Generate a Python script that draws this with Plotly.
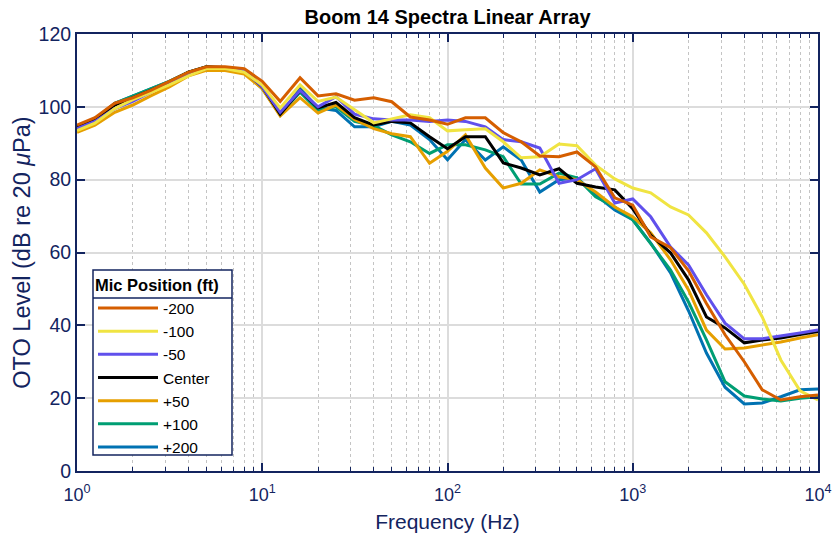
import plotly.graph_objects as go

freqs = [1, 1.25, 1.6, 2, 2.5, 3.15, 4, 5, 6.3, 8, 10, 12.5, 16, 20, 25, 31.5, 40, 50, 63, 80,
         100, 125, 160, 200, 250, 315, 400, 500, 630, 800, 1000, 1250, 1600, 2000, 2500, 3150,
         4000, 5000, 6300, 8000, 10000]

m200 = [95, 97, 101, 102.5, 104.5, 107, 109.5, 111, 111, 110.5, 107, 101.5, 108, 103, 103.6, 101.8,
        102.5, 101.4, 97.2, 96.4, 95.2, 97, 97, 92.9, 90.4, 86.5, 86.3, 87.6, 83.5, 75, 73, 64.3,
        61.3, 55, 46, 37.4, 30, 22.3, 19.5, 20.4, 20.9]
m100 = [93.5, 95.5, 99.5, 102, 104, 106, 108.5, 110.5, 110.5, 109.5, 106, 99.7, 106, 101.5, 102.7,
        99.3, 95.6, 96.7, 97.8, 97, 93.4, 93.7, 94, 90.4, 86, 86.3, 89.8, 89.3, 84, 80.2, 77.7, 76.4,
        72.5, 70.3, 65.4, 58.8, 51.3, 42.3, 30.5, 22, 19.5]
m50 = [94, 96, 99.5, 101.5, 104, 106.5, 109, 110.5, 110.5, 110, 105.5, 98.5, 104.5, 100, 102.8, 98,
       96.7, 96.4, 96.4, 96, 96.4, 96, 94.5, 91, 90.4, 88.7, 79, 80, 83, 73.6, 74.7, 69.8, 61.5, 56.6,
       48.4, 40.6, 36.3, 36.3, 37, 37.9, 38.7]
center = [94.5, 96.5, 100.5, 102.5, 104.5, 106.8, 109.5, 111, 110.8, 110, 105.5, 98, 104.5, 99.7,
          101.2, 97, 95, 96, 95.6, 91.8, 88.5, 91.8, 91.8, 84.6, 83.2, 81.3, 83, 79, 78, 77.2, 72,
          64.8, 59.9, 52.5, 42.3, 39.3, 35.2, 36, 36.5, 37.5, 38.3]
p50 = [93, 95, 98.5, 100.5, 103, 105.5, 108.5, 110, 110, 109, 105, 97.5, 102.5, 98.3, 100.5, 96.5,
       94, 92.6, 91.8, 84.5, 87.8, 92.3, 83.2, 77.7, 79, 82.7, 80.8, 80, 76.6, 72.5, 69.8, 65.4, 58,
       49.7, 38.7, 33.5, 33.8, 34.5, 35.4, 36.5, 37.4]
p100 = [94.5, 96.5, 101, 103, 105, 107, 109.5, 111, 110.5, 110, 105.5, 98, 104, 99, 100, 96, 94.8,
        92.3, 90.4, 87.2, 89.6, 89.6, 88.2, 86.3, 78.8, 78.8, 81.8, 80.5, 75.3, 72.5, 69, 62.6, 55.2,
        46.4, 36, 24.5, 20.6, 19.8, 19.2, 20, 20.4]
p200 = [94.5, 96.5, 101, 103, 105, 107, 109.5, 110.5, 110.5, 109.5, 105, 97.8, 105, 99.7, 99, 94.5,
        94.5, 96, 95, 91, 85.5, 91, 85.4, 89, 85.4, 76.6, 80, 80.5, 75.8, 71.7, 69, 62.6, 54.4, 44,
        32.4, 23, 18.4, 18.7, 20.4, 22.3, 22.5]

names = ["-200", "-100", "-50", "Center", "+50", "+100", "+200"]
series = [m200, m100, m50, center, p50, p100, p200]
colors = ["#D55E00", "#F0E442", "#6050EC", "#000000", "#E69F00", "#009E73", "#0072B2"]

xtickvals = [1, 10, 100, 1000, 10000]
xticktext = ["10<sup>0</sup>", "10<sup>1</sup>", "10<sup>2</sup>", "10<sup>3</sup>", "10<sup>4</sup>"]
xminorvals = [k * 10 ** d for d in range(4) for k in range(2, 10)]
ytickvals = [0, 20, 40, 60, 80, 100, 120]

navy = "#13245F"
W, H = 833, 533
ML, MR, MT, MB = 77, 15, 34, 62
PW, PH = W - ML - MR, H - MT - MB


def px(x):
    return (x - ML) / PW


def py(y):
    return (H - MB - y) / PH


fig = go.Figure()
for name, ys, c in reversed(list(zip(names, series, colors))):
    fig.add_trace(go.Scatter(x=freqs, y=ys, name=name, mode="lines",
                             line=dict(color=c, width=3)))

fig.update_layout(
    width=W, height=H,
    margin=dict(l=ML, r=MR, t=MT, b=MB, autoexpand=False),
    paper_bgcolor="white", plot_bgcolor="white",
    font=dict(family="Liberation Sans, Arial, sans-serif", color=navy),
    title=dict(text="<b>Boom 14 Spectra Linear Array</b>", x=0.5, xref="paper", xanchor="center",
               y=1 - 17 / 533, yref="container", yanchor="middle",
               font=dict(size=20, color="black")),
    legend=dict(x=px(93), y=py(270), xanchor="left", yanchor="top", traceorder="reversed",
                bgcolor="rgba(0,0,0,0)", borderwidth=0, itemwidth=60,
                font=dict(size=15.5, color="black"),
                title=dict(text="<b>Mic Position (ft)</b>", font=dict(size=16.5, color="black"))),
    showlegend=True,
)
fig.update_xaxes(type="log", range=[0, 4], tickvals=xtickvals, ticktext=xticktext,
                 tickfont=dict(size=18, color=navy), ticks="inside", ticklen=8, tickwidth=1.5,
                 tickcolor=navy, showline=True, linecolor=navy, linewidth=2, mirror="ticks",
                 showgrid=True, gridcolor="#DCDCDC", gridwidth=1.5, zeroline=False,
                 automargin=False, ticklabelstandoff=6,
                 minor=dict(tickmode="array", tickvals=xminorvals, ticks="inside", ticklen=4,
                            tickcolor=navy, tickwidth=1, showgrid=True,
                            gridcolor="#C4C4C4", griddash="dot", gridwidth=1),
                 title=dict(text="Frequency (Hz)", font=dict(size=21, color=navy), standoff=12))
fig.update_yaxes(range=[0, 120], tickvals=ytickvals, tickfont=dict(size=19.5, color=navy),
                 ticks="inside", ticklen=8, tickwidth=1.5, tickcolor=navy, showline=True,
                 linecolor=navy, linewidth=2, mirror="ticks", showgrid=True, gridcolor="#DCDCDC",
                 gridwidth=1.5, zeroline=False, automargin=False,
                 title=dict(text="OTO Level (dB re 20 <i>μ</i>Pa)", font=dict(size=23.5, color=navy),
                            standoff=1))
# legend box and title separator
fig.add_shape(type="rect", xref="paper", yref="paper", x0=px(93), x1=px(232), y0=py(455), y1=py(270),
              fillcolor="white", line=dict(color=navy, width=1.5), layer="above")
fig.add_shape(type="line", xref="paper", yref="paper", x0=px(93), x1=px(232), y0=py(298), y1=py(298),
              line=dict(color=navy, width=1.5), layer="above")
fig.write_html("out.html", config={"displayModeBar": False},
               post_script="document.body.style.margin='0';")
